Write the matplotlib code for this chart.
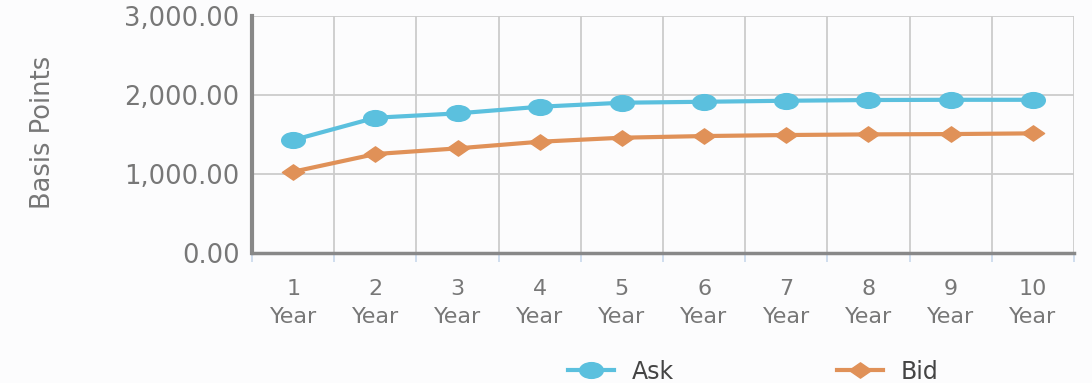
import matplotlib.pyplot as plt
from matplotlib.path import Path
from matplotlib.ticker import FuncFormatter

years = ["1", "2", "3", "4", "5", "6", "7", "8", "9", "10"]
ask = [1430, 1713, 1768, 1852, 1903, 1915, 1928, 1937, 1940, 1940]
bid = [1029, 1253, 1325, 1409, 1460, 1481, 1494, 1502, 1506, 1515]
y_ticks = [0, 1000, 2000, 3000]

ASK_COLOR = "#5bc0de"
BID_COLOR = "#e09158"
TEXT_GRAY = "#777777"

# wide ellipse / diamond markers
ellipse = Path.unit_circle()
ellipse = Path(ellipse.vertices * [1.5, 1.0], ellipse.codes)
diamond = Path([(-1.45, 0), (0, 1), (1.45, 0), (0, -1), (-1.45, 0)],
               [Path.MOVETO, Path.LINETO, Path.LINETO, Path.LINETO, Path.CLOSEPOLY])

fig = plt.figure(figsize=(10.92, 3.83), dpi=100, facecolor="#fcfcfd")
ax = fig.add_axes([0.2308, 0.3394, 0.7527, 0.6186])
ax.set_facecolor("#fcfcfd")

x = list(range(len(years)))
ax.plot(x, ask, color=ASK_COLOR, lw=3, marker=ellipse, ms=17, label="Ask", zorder=3)
ax.plot(x, bid, color=BID_COLOR, lw=3, marker=diamond, ms=16, label="Bid", zorder=3)

ax.set_xlim(-0.5, len(years) - 0.5)
ax.set_ylim(0, 3000)

ax.set_xticks(x)
ax.set_xticklabels([f"{y}\nYear" for y in years], fontsize=16, color=TEXT_GRAY,
                   linespacing=1.5)
ax.set_xticks([i - 0.5 for i in range(len(years) + 1)], minor=True)
ax.tick_params(axis="x", which="major", length=0, pad=19)
ax.tick_params(axis="x", which="minor", length=6.5, width=1.2, color="#c9d8ec")

ax.set_yticks(y_ticks)
ax.yaxis.set_major_formatter(FuncFormatter(lambda v, _: f"{v:,.2f}"))
ax.tick_params(axis="y", length=0, pad=9, labelsize=18.5, labelcolor=TEXT_GRAY)

ax.grid(True, axis="y", color="#cccccc", lw=1.3)
ax.grid(True, axis="x", which="minor", color="#cccccc", lw=1.3)
ax.set_axisbelow(True)

for side in ("top", "right"):
    ax.spines[side].set_visible(False)
ax.spines["left"].set_color("#888888")
ax.spines["left"].set_linewidth(3)
ax.spines["bottom"].set_color("#888888")
ax.spines["bottom"].set_linewidth(2.5)

fig.text(0.039, 0.655, "Basis Points", rotation=90, ha="center", va="center",
         fontsize=18.5, color=TEXT_GRAY)

fig.legend(loc="center", bbox_to_anchor=(0.69, 0.03), ncol=2, frameon=False,
           fontsize=17, handlelength=1.95, columnspacing=6.9, handletextpad=0.75,
           labelcolor="#444444")

fig.savefig("out.png", dpi=100, facecolor=fig.get_facecolor())
